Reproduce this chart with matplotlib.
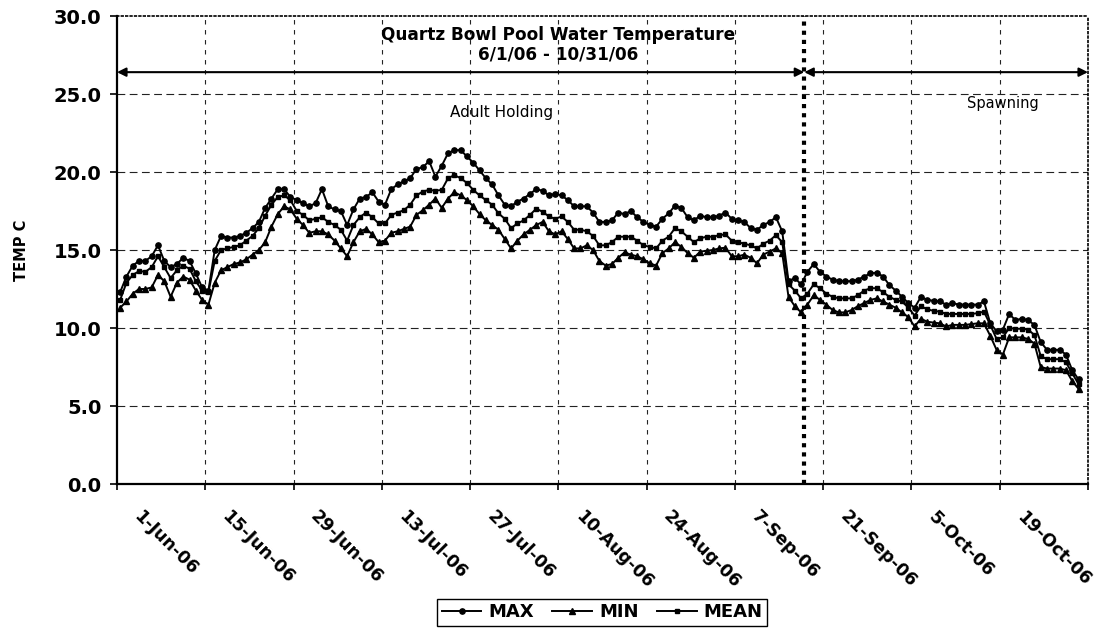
import pandas as pd
import matplotlib.pyplot as plt
from matplotlib.transforms import ScaledTranslation

# daily water temperature, 1-Jun-06 .. 31-Oct-06
dias = pd.date_range('2006-06-01', '2006-10-31', freq='D')

temp_max = [
    12.3, 13.3, 14.0, 14.3, 14.3, 14.6, 15.3, 14.3, 13.9, 14.1,
    14.5, 14.3, 13.5, 12.6, 12.4, 15.0, 15.9, 15.8, 15.8, 15.9,
    16.1, 16.4, 16.8, 17.7, 18.3, 18.9, 18.9, 18.4, 18.2, 18.0,
    17.8, 18.0, 18.9, 17.8, 17.6, 17.5, 16.6, 17.6, 18.3, 18.4,
    18.7, 18.1, 17.9, 18.9, 19.2, 19.4, 19.6, 20.2, 20.3, 20.7,
    19.7, 20.4, 21.2, 21.4, 21.4, 21.0, 20.6, 20.1, 19.6, 19.2,
    18.5, 17.9, 17.8, 18.1, 18.3, 18.6, 18.9, 18.8, 18.5, 18.6,
    18.5, 18.2, 17.8, 17.8, 17.8, 17.4, 16.8, 16.8, 16.9, 17.4,
    17.3, 17.5, 17.1, 16.8, 16.6, 16.5, 17.0, 17.35, 17.85, 17.7,
    17.1, 16.9, 17.2, 17.1, 17.1, 17.2, 17.4, 17.0, 16.9, 16.8,
    16.4, 16.3, 16.6, 16.8, 17.1, 16.2, 13.0, 13.2, 12.8, 13.6,
    14.1, 13.6, 13.3, 13.1, 13.0, 13.0, 13.0, 13.1, 13.3, 13.5,
    13.55, 13.3, 12.75, 12.4, 12.0, 11.6, 11.3, 12.0, 11.8, 11.75,
    11.7, 11.5, 11.6, 11.5, 11.5, 11.5, 11.5, 11.7, 10.3, 9.8,
    9.9, 10.9, 10.5, 10.6, 10.5, 10.2, 9.1, 8.6, 8.6, 8.6,
    8.3, 7.3, 6.7]

temp_min = [
    11.3, 11.7, 12.2, 12.5, 12.5, 12.6, 13.4, 13.0, 12.0, 12.9,
    13.3, 13.1, 12.4, 11.8, 11.5, 12.9, 13.7, 13.9, 14.1, 14.2,
    14.4, 14.7, 15.0, 15.5, 16.5, 17.3, 17.8, 17.6, 17.0, 16.6,
    16.1, 16.2, 16.2, 16.0, 15.6, 15.1, 14.6, 15.5, 16.2, 16.35,
    16.0, 15.5, 15.6, 16.1, 16.2, 16.35, 16.5, 17.25, 17.55, 17.9,
    18.3, 17.7, 18.3, 18.7, 18.5, 18.2, 17.8, 17.3, 16.9, 16.6,
    16.3, 15.7, 15.1, 15.6, 16.0, 16.3, 16.6, 16.8, 16.2, 16.0,
    16.2, 15.7, 15.1, 15.1, 15.3, 15.0, 14.3, 14.0, 14.1, 14.5,
    14.85, 14.7, 14.6, 14.4, 14.15, 14.0, 14.8, 15.1, 15.5, 15.2,
    14.8, 14.5, 14.9, 14.95, 15.0, 15.1, 15.15, 14.6, 14.6, 14.7,
    14.5, 14.15, 14.7, 14.9, 15.1, 14.8, 12.0, 11.4, 11.0, 11.5,
    12.1, 11.8, 11.5, 11.15, 11.0, 11.0, 11.15, 11.4, 11.6, 11.8,
    11.9, 11.7, 11.5, 11.3, 11.0, 10.7, 10.1, 10.6, 10.4, 10.35,
    10.3, 10.1, 10.2, 10.2, 10.2, 10.25, 10.3, 10.3, 9.5, 8.6,
    8.3, 9.4, 9.4, 9.4, 9.3, 9.0, 7.5, 7.4, 7.4, 7.4,
    7.3, 6.6, 6.1]

temp_mean = [
    11.8, 12.9, 13.4, 13.65, 13.6, 13.9, 14.6, 13.9, 13.2, 13.7,
    14.0, 13.8, 13.0, 12.4, 12.3, 14.3, 15.0, 15.1, 15.2, 15.3,
    15.6, 15.9, 16.4, 17.2, 17.9, 18.4, 18.5, 18.2, 17.5, 17.25,
    16.9, 17.0, 17.1, 16.8, 16.6, 16.3, 15.6, 16.6, 17.1, 17.4,
    17.1, 16.7, 16.7, 17.25, 17.4, 17.55, 17.9, 18.5, 18.75, 18.85,
    18.8, 18.85, 19.6, 19.8, 19.6, 19.3, 18.85, 18.5, 18.2, 17.9,
    17.35, 17.0, 16.4, 16.7, 16.9, 17.25, 17.65, 17.45, 17.15, 17.0,
    17.15, 16.8, 16.3, 16.3, 16.2, 15.9, 15.3, 15.3, 15.5, 15.85,
    15.85, 15.85, 15.6, 15.3, 15.2, 15.1, 15.6, 15.85, 16.4, 16.2,
    15.85, 15.5, 15.75, 15.85, 15.85, 15.95, 16.0, 15.6, 15.5, 15.4,
    15.3, 15.1, 15.4, 15.6, 15.95, 15.5, 12.8, 12.4, 11.9, 12.2,
    12.8, 12.55, 12.2, 12.0, 11.9, 11.9, 11.9, 12.1, 12.4, 12.55,
    12.55, 12.3, 12.0, 11.8, 11.7, 11.3, 10.8, 11.4, 11.2, 11.1,
    11.05, 10.9, 10.9, 10.9, 10.9, 10.9, 10.95, 11.05, 10.2, 9.3,
    9.4, 10.0, 9.95, 9.95, 9.9, 9.55, 8.2, 8.0, 8.0, 8.0,
    7.8, 7.1, 6.4]

marcas = pd.date_range('2006-06-01', periods=12, freq='14D')
rotulos = [f"{d.day}-{d.strftime('%b-%y')}" for d in marcas[:-1]] + ['']
inicio, fim = pd.Timestamp('2006-06-01'), pd.Timestamp('2006-11-02')
divisao = pd.Timestamp('2006-09-18')

plt.rcParams['font.family'] = 'DejaVu Sans'

fig = plt.figure(figsize=(11.01, 6.31), dpi=100)
ax = fig.add_axes([117/1101, 1 - 484/631, (1088 - 117)/1101, (484 - 16)/631])

x = dias + pd.Timedelta(hours=12)
ax.plot(x, temp_max, color='black', lw=1.4, marker='o', ms=3.8, label='MAX', zorder=4)
ax.plot(x, temp_min, color='black', lw=1.4, marker='^', ms=4.2, label='MIN', zorder=4)
ax.plot(x, temp_mean, color='black', lw=1.4, marker='s', ms=3.4, label='MEAN', zorder=4)

ax.set_xlim(inicio, fim)
ax.set_ylim(0, 30)
ax.set_yticks(range(0, 31, 5))
ax.set_yticklabels([f'{v:.1f}' for v in range(0, 31, 5)], fontsize=14, fontweight='bold')
ax.set_xticks(marcas)
ax.set_xticklabels(rotulos, fontsize=12.5, fontweight='bold', rotation=-45,
                   ha='left', va='top', rotation_mode='anchor')
ax.tick_params(axis='x', length=4, width=1.2, pad=13, direction='out')
ax.tick_params(axis='y', length=5, width=1.2, pad=6, direction='out')
for lab in ax.get_xticklabels():
    lab.set_transform(lab.get_transform() + ScaledTranslation(0.26, 0, fig.dpi_scale_trans))

# grade tracejada
for v in range(5, 30, 5):
    ax.axhline(v, color='#222222', lw=0.8, ls=(0, (7, 4)), zorder=1)
for d in marcas[1:-1]:
    ax.axvline(d, color='#222222', lw=0.8, ls=(0, (4, 5)), zorder=1)

ax.spines['left'].set_linewidth(1.6)
ax.spines['bottom'].set_linewidth(1.6)
for lado in ['top', 'right']:
    ax.spines[lado].set_linestyle(':')
    ax.spines[lado].set_linewidth(1.2)

ax.set_ylabel('TEMP C', fontsize=10.5, fontweight='bold', labelpad=18)

# linha pontilhada e setas
ax.plot([divisao, divisao], [0, 30], color='black', lw=3, ls=(0, (1, 1.2)), zorder=5, clip_on=False)
seta = dict(arrowstyle='<|-|>', color='black', lw=1.5, mutation_scale=13, shrinkA=0, shrinkB=0)
ax.annotate('', xy=(inicio, 26.4), xytext=(divisao, 26.4), arrowprops=seta)
ax.annotate('', xy=(divisao, 26.4), xytext=(fim, 26.4), arrowprops=seta)

ax.text(pd.Timestamp('2006-08-10'), 28.15, 'Quartz Bowl Pool Water Temperature\n6/1/06 - 10/31/06',
        ha='center', va='center', fontsize=12.2, fontweight='bold', linespacing=1.1)
ax.text(pd.Timestamp('2006-08-01'), 23.8, 'Adult Holding', ha='center', va='center', fontsize=11)
ax.text(pd.Timestamp('2006-10-19 12:00'), 24.4, 'Spawning', ha='center', va='center', fontsize=10.5)

fig.legend(loc='center', bbox_to_anchor=(0.547, 0.030), ncol=3, frameon=True, fancybox=False,
           edgecolor='black', framealpha=1, handlelength=2.2, columnspacing=1.0, handletextpad=0.4,
           borderpad=0.25, prop={'weight': 'bold', 'size': 13})

fig.savefig('out.png', dpi=100)
